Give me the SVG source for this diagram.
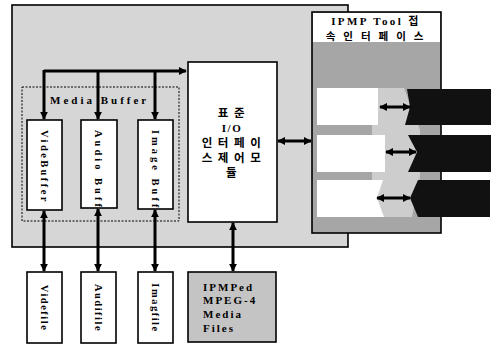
<svg xmlns="http://www.w3.org/2000/svg" width="491" height="345" viewBox="0 0 491 345">
<defs>
<marker id="ah" viewBox="0 0 10 10" refX="9" refY="5" markerWidth="8" markerHeight="8" markerUnits="userSpaceOnUse" orient="auto-start-reverse">
<path d="M0,0 L10,5 L0,10 Z" fill="#000"/>
</marker>
<clipPath id="cA"><rect x="81" y="120" width="36" height="88"/></clipPath>
<clipPath id="cI"><rect x="138" y="120" width="35" height="89"/></clipPath>
</defs>
<style>
.box{fill:#fff;stroke:#000;stroke-width:1.6}
.ser{font-family:"Liberation Serif","Noto Sans CJK KR",serif;font-weight:bold;fill:#000}
.kr{font-family:"Noto Sans CJK KR","Noto Sans",sans-serif;font-weight:bold;fill:#000}
.con{stroke:#000;stroke-width:3;fill:none}
.blk{fill:#111}
</style>
<g id="outer-panel">
<rect x="12" y="5" width="336" height="242" fill="#d6d6d6" stroke="#000" stroke-width="1.6"/>
</g>
<g id="media-buffer">
<rect x="22" y="87" width="157" height="134" fill="none" stroke="#000" stroke-width="1" stroke-dasharray="2,1.5"/>
<text class="ser" x="50" y="104" font-size="11" letter-spacing="3">Media Buffer</text>
</g>
<g id="video-buffer">
<rect class="box" x="27" y="120" width="35" height="90"/>
<text class="ser" font-size="10.5" letter-spacing="2.4" transform="translate(41,130) rotate(90)">VideBuffer</text>
</g>
<g id="audio-buffer">
<rect class="box" x="81" y="120" width="36" height="88"/>
<g clip-path="url(#cA)">
<text class="ser" font-size="10.5" letter-spacing="3" transform="translate(95,130) rotate(90)">Audio Buffer</text>
</g>
</g>
<g id="image-buffer">
<rect class="box" x="138" y="120" width="35" height="89"/>
<g clip-path="url(#cI)">
<text class="ser" font-size="10.5" letter-spacing="3" transform="translate(152,130) rotate(90)">Image Buffer</text>
</g>
</g>
<g id="io-module">
<rect class="box" x="188" y="62" width="89" height="160"/>
<g class="kr" font-size="11.5" text-anchor="middle" letter-spacing="1.5">
<text x="232" y="117">표 준</text>
<text x="232" y="132" class="ser" font-size="11">I/O</text>
<text x="232" y="147">인 터 페 이</text>
<text x="232" y="162">스 제 어 모</text>
<text x="232" y="177">듈</text>
</g>
</g>
<g id="ipmp-interface">
<rect x="312" y="12" width="129" height="221" fill="#a6a6a6" stroke="#000" stroke-width="1.6"/>
<rect x="313" y="13" width="127" height="29" fill="#fff"/>
<polygon points="372,88 404,88 420,130 420,176 412,217 372,217" fill="#cdcdcd"/>
<text class="ser" x="376" y="25" font-size="11" letter-spacing="2.4" text-anchor="middle">IPMP Tool 접</text>
<text class="kr" x="376" y="39.5" font-size="10.5" letter-spacing="2.8" text-anchor="middle">속 인 터 페 이 스</text>
<rect x="317" y="88" width="61" height="37" fill="#fff"/>
<rect x="317" y="135" width="68" height="37" fill="#fff"/>
<polygon points="317,180 383,180 377,198 384,217 317,217" fill="#fff"/>
</g>
<g id="tool-1"><polygon class="blk" points="407,89 491,89 491,125 405,125 410,107"/></g>
<g id="tool-2"><polygon class="blk" points="408,135 491,135 491,172 408,172 417,152"/></g>
<g id="tool-3"><polygon class="blk" points="418,180 490,180 490,217 418,217 410,198"/></g>
<g id="files">
<rect x="188" y="272" width="88" height="70" fill="#c4c4c4" stroke="#000" stroke-width="1.6"/>
<g class="ser" font-size="11" letter-spacing="2">
<text x="203" y="291">IPMPed</text>
<text x="203" y="304">MPEG-4</text>
<text x="203" y="318">Media</text>
<text x="203" y="332">Files</text>
</g>
</g>
<g id="videfile">
<rect class="box" x="27" y="272" width="35" height="71"/>
<text class="ser" font-size="10.5" letter-spacing="1.5" text-anchor="middle" transform="translate(41,308) rotate(90)">Videfile</text>
</g>
<g id="audifile">
<rect class="box" x="81" y="272" width="35" height="71"/>
<text class="ser" font-size="10.5" letter-spacing="1.5" text-anchor="middle" transform="translate(95,308) rotate(90)">Audifile</text>
</g>
<g id="imagfile">
<rect class="box" x="138" y="272" width="35" height="71"/>
<text class="ser" font-size="10.5" letter-spacing="1.5" text-anchor="middle" transform="translate(152,308) rotate(90)">Imagfile</text>
</g>
<g id="connectors">
<path class="con" d="M44,71 H186" marker-end="url(#ah)"/>
<path class="con" d="M44,70 V119" marker-end="url(#ah)"/>
<path class="con" d="M98,70 V119" marker-end="url(#ah)"/>
<path class="con" d="M155,70 V119" marker-end="url(#ah)"/>
<path class="con" d="M44,211 V271" marker-start="url(#ah)" marker-end="url(#ah)"/>
<path class="con" d="M98,209 V271" marker-start="url(#ah)" marker-end="url(#ah)"/>
<path class="con" d="M155,210 V271" marker-start="url(#ah)" marker-end="url(#ah)"/>
<path class="con" d="M233,223 V271" marker-start="url(#ah)" marker-end="url(#ah)"/>
<path class="con" d="M278,141 H311" marker-start="url(#ah)" marker-end="url(#ah)"/>
<path class="con" d="M380,107 H410" marker-start="url(#ah)" marker-end="url(#ah)"/>
<path class="con" d="M386,152 H416" marker-start="url(#ah)" marker-end="url(#ah)"/>
<path class="con" d="M377,198 H410" marker-start="url(#ah)" marker-end="url(#ah)"/>
</g>
</svg>
